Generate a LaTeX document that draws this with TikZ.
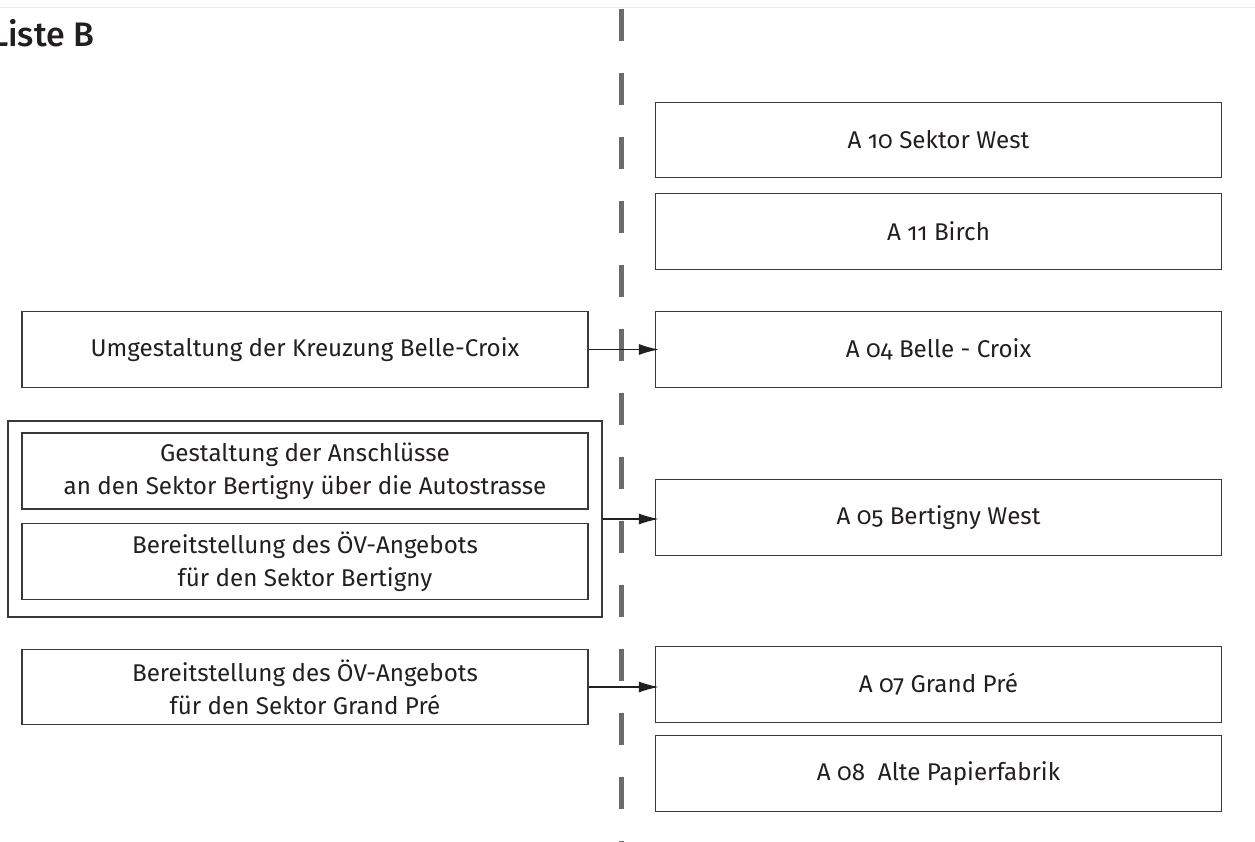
\documentclass[tikz,border=0pt]{standalone}
\usepackage{fontspec}
\setmainfont{Fira Sans}[Numbers=OldStyle]
\newfontfamily\titlefont{Fira Sans Medium}
\usetikzlibrary{arrows.meta}
\definecolor{ink}{HTML}{231F20}
\definecolor{boxline}{HTML}{3A3A3A}
\definecolor{dashgray}{HTML}{6B6B6B}
\definecolor{topline}{HTML}{E6EDF2}
\begin{document}
\begin{tikzpicture}[x=1pt,y=-1pt,
  box/.style={draw=boxline,line width=1.3pt,rectangle,inner sep=0pt,
    minimum width=566pt,minimum height=75.5pt,align=center,text=ink,
    font=\fontsize{24.2}{33}\selectfont},
  group/.style={draw=boxline,line width=1.3pt,rectangle,inner sep=0pt,
    minimum width=594pt,minimum height=196pt},
  conn/.style={draw=ink,line width=1.5pt,-{Latex[length=20pt,width=11pt]},shorten >=-4pt},
  divider/.style={draw=dashgray,line width=5pt,dash pattern=on 32pt off 32pt}]
\useasboundingbox (0,0) rectangle (1255,842);
\draw[topline,line width=1pt] (0,8) -- (1255,8);
\coordinate (dtop) at (621,9);
\coordinate (dbot) at (621,858);
\draw[divider] (dtop) -- (dbot);
\node[anchor=base west,inner sep=0pt,text=ink,font=\titlefont\fontsize{34}{40}\selectfont] (title) at (-9,47) {Liste B};
% right column
\node[box] (a10) at (938.5,140) {A 10 Sektor West};
\node[box] (a11) at (938.5,231.5) {A 11 Birch};
\node[box] (a04) at (938.5,349.5) {A 04 Belle - Croix};
\node[box] (a05) at (938.5,517.5) {A 05 Bertigny West};
\node[box] (a07) at (938.5,684.5) {A 07 Grand Pré};
\node[box] (a08) at (938.5,773.5) {A 08\ \ Alte Papierfabrik};
% left column
\node[box] (umg) at (305,349.5) {Umgestaltung der Kreuzung Belle-Croix};
\node[group] (grp) at (305,519) {};
\node[box,minimum height=76pt] (ans) at (305,471) {Gestaltung der Anschlüsse\\an den Sektor Bertigny über die Autostrasse};
\node[box] (oev) at (305,561.5) {Bereitstellung des ÖV-Angebots\\für den Sektor Bertigny};
\node[box] (gp) at (305,687) {Bereitstellung des ÖV-Angebots\\für den Sektor Grand Pré};
% connectors
\draw[conn] (umg.east) -- (a04.west);
\draw[conn] (grp.east) -- (grp.east -| a05.west);
\draw[conn] (gp.east) -- (gp.east -| a07.west);
\end{tikzpicture}
\end{document}
